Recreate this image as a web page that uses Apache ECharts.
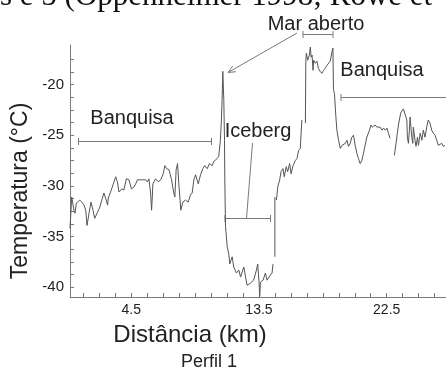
<!DOCTYPE html>
<html>
<head>
<meta charset="utf-8">
<script src="https://cdn.jsdelivr.net/npm/echarts@6/dist/echarts.min.js"></script>
<style>
  html, body { margin: 0; padding: 0; background: #fff; }
  #chart { width: 446px; height: 371px; }
</style>
</head>
<body>
<div id="chart"></div>
<script>
// distance along profile (km) and surface temperature (°C); null = gap in the record
const dist = [
  0.18, 0.30, 0.39, 0.46, 0.53, 0.63, 0.77, 0.87, 1.01, 1.17, 1.29, 1.38, 1.52, 1.66, 1.80, 1.92,
  2.12, 2.28, 2.42, 2.57, 2.69, 2.83, 2.88, 3.04, 3.21, 3.40, 3.52, 3.63, 3.82, 3.98, 4.15, 4.34,
  4.51, 4.69, 4.81, 4.93, 5.04, 5.27, 5.51, 5.63, 5.74, 5.86, 5.93, 5.98, 6.02, 6.21, 6.40, 6.57,
  6.73, 6.87, 6.99, 7.15, 7.34, 7.48, 7.57, 7.66, 7.76, 7.85, 7.99, 8.13, 8.32, 8.51, 8.67, 8.79,
  8.91, 9.03, 9.22, 9.38, 9.54, 9.68, 9.85, 10.01, 10.20, 10.31, 10.55, 10.66, 10.78, 10.85, 10.90, 10.95,
  11.02, 11.07, 11.09, 11.14, 11.26, 11.37, 11.44, 11.61, 11.72, 11.91, 12.08, 12.20, 12.43, 12.66, 12.89, 13.12,
  13.32, 13.41, 13.51, 13.55, 13.60, 13.79, 13.95, 14.07, 14.30, 14.42, 14.49, 14.55, 14.62, 14.62, 14.68, 14.73,
  14.82, 14.96, 15.05, 15.19, 15.28, 15.42, 15.52, 15.66, 15.76, 15.90, 16.06, 16.18, 16.29, 16.41, 16.52, 16.60,
  16.77, 16.80, 16.84, 16.93, 17.05, 17.12, 17.17, 17.24, 17.31, 17.35, 17.47, 17.58, 17.69, 17.81, 17.93, 18.05,
  18.17, 18.29, 18.40, 18.52, 18.64, 18.71, 18.75, 18.82, 18.92, 18.99, 19.11, 19.23, 19.35, 19.46, 19.58, 19.70,
  19.81, 19.93, 20.04, 20.16, 20.28, 20.40, 20.51, 20.63, 20.75, 20.86, 20.98, 21.10, 21.29, 21.39, 21.48, 21.57,
  21.69, 21.81, 21.92, 22.04, 22.16, 22.28, 22.40, 22.52, 22.62, 22.74, 22.85, 23.04, 23.16, 23.25, 23.35, 23.49,
  23.68, 23.80, 23.92, 23.96, 24.03, 24.10, 24.15, 24.27, 24.34, 24.38, 24.50, 24.57, 24.67, 24.74, 24.86, 24.98,
  25.08, 25.20, 25.32, 25.43, 25.55, 25.67, 25.79, 25.91, 26.03, 26.14, 26.26, 26.38, 26.49, 26.61
];
const temp = [
  -34.2, -31.1, -31.2, -32.4, -32.7, -31.7, -31.6, -31.4, -31.6, -31.9, -32.4, -33.9, -32.7, -31.6, -32.4, -33.2,
  -32.6, -32.1, -31.4, -30.7, -31.2, -31.9, -31.2, -30.6, -29.9, -29.1, -29.6, -30.6, -30.3, -30.4, -29.3, -29.4,
  -30.3, -30.1, -29.8, -29.4, -29.3, -29.4, -29.4, -29.6, -29.3, -30.7, -32.4, -31.1, -29.8, -29.3, -29.6, -29.4,
  -28.9, -28.0, -28.3, -28.4, -29.4, -30.6, -31.1, -28.4, -27.8, -29.8, -32.4, -31.6, -31.4, -31.6, -30.9, -30.7,
  -29.4, -28.9, -29.8, -28.9, -28.3, -28.0, -28.3, -27.8, -28.0, -27.6, -27.3, -27.1, -25.5, -23.5, -21.5, -18.7,
  -21.5, -25.5, -29.4, -34.0, -36.0, -36.7, -37.7, -37.0, -38.0, -38.6, -38.3, -39.0, -38.0, -39.8, -39.6, -39.3,
  -38.3, -37.7, -39.6, -40.9, -39.5, -39.3, -38.6, -39.3, -38.8, -38.6, -37.7, null, -37.0, -31.1, null, -31.4,
  -30.1, -29.4, -28.6, -28.3, -29.1, -28.1, -28.6, -27.8, -28.8, -28.0, -27.5, -27.3, -26.5, -26.3, -23.5, null,
  -23.8, -17.7, -16.9, -17.6, -17.1, -16.3, -17.3, -17.1, -18.6, -17.6, -17.9, -17.7, -18.4, -18.7, -18.9, -18.6,
  -18.4, -18.1, -18.2, -17.7, -16.8, -16.4, -20.5, -20.9, -23.2, -24.5, -25.5, -26.3, -26.0, -26.1, -25.8, -25.5,
  -26.1, -25.8, -25.2, -25.0, -26.0, -26.8, -27.3, -27.8, -27.5, -26.8, -26.0, -25.2, -24.5, -24.0, -24.2, -24.2,
  -24.0, -24.2, -24.3, -24.2, -24.5, -24.3, -24.5, -24.3, -24.8, -25.3, null, -27.0, -25.8, -24.8, -23.8, -22.8,
  -22.4, -22.5, -23.5, -25.2, -25.8, -24.5, -23.2, -25.2, -25.8, -24.2, -25.5, -26.1, -25.2, -26.0, -24.8, -25.5,
  -24.5, -25.2, -24.2, -23.5, -23.8, -24.5, -24.8, -25.0, -25.5, -26.0, -26.1, -25.8, -26.1, -26.0
];

// axis ticks and labels
const xLabels = [4.5, 13.5, 22.5];
const xTicks = [];
for (let i = 1; i <= 23; i++) xTicks.push(i * 1.125);
const yLabels = [-40, -35, -30, -25, -20];
const yTicks = [];
for (let i = 0; i <= 18; i++) yTicks.push(-40 + i * 1.25);

const font = '"Liberation Sans", Arial, sans-serif';
const ink = '#222';
const gray = '#7a7a7a';

function bracket(x1, x2, y, leftEnd, rightEnd) {
  const els = [{ type: 'line', shape: { x1: x1, y1: y, x2: x2, y2: y }, style: { stroke: gray, lineWidth: 1 } }];
  if (leftEnd) els.push({ type: 'line', shape: { x1: x1, y1: y - 3.5, x2: x1, y2: y + 3.5 }, style: { stroke: gray, lineWidth: 1 } });
  if (rightEnd) els.push({ type: 'line', shape: { x1: x2, y1: y - 3.5, x2: x2, y2: y + 3.5 }, style: { stroke: gray, lineWidth: 1 } });
  return els;
}

function arrow(x1, y1, x2, y2) {
  const a = Math.atan2(y1 - y2, x1 - x2);
  const len = 8, spread = 0.42;
  return [
    { type: 'line', shape: { x1: x1, y1: y1, x2: x2, y2: y2 }, style: { stroke: gray, lineWidth: 1 } },
    { type: 'polyline', shape: { points: [
      [x2 + len * Math.cos(a + spread), y2 + len * Math.sin(a + spread)],
      [x2, y2],
      [x2 + len * Math.cos(a - spread), y2 + len * Math.sin(a - spread)]
    ] }, style: { stroke: gray, lineWidth: 1, fill: null } }
  ];
}

function label(text, x, y, size, extra) {
  return Object.assign({
    type: 'text', x: x, y: y,
    style: { text: text, font: size + 'px ' + font, fill: ink, align: 'center', verticalAlign: 'middle' }
  }, extra || {});
}

const chart = echarts.init(document.getElementById('chart'));

chart.setOption({
  animation: false,
  backgroundColor: '#fff',
  grid: { left: 70, right: 0, top: 45, bottom: 74 },
  xAxis: {
    type: 'value',
    min: 0.18,
    max: 26.68,
    axisLine: { lineStyle: { color: gray } },
    axisTick: { inside: true, length: 4, customValues: xTicks, lineStyle: { color: gray } },
    axisLabel: {
      customValues: xLabels,
      formatter: (v) => v.toFixed(1),
      color: ink, fontSize: 14, fontFamily: font, margin: 6
    },
    splitLine: { show: false }
  },
  yAxis: {
    type: 'value',
    min: -40.96,
    max: -16.1,
    axisLine: { show: true, lineStyle: { color: gray } },
    axisTick: { show: true, inside: true, length: 4, customValues: yTicks, lineStyle: { color: gray } },
    axisLabel: {
      customValues: yLabels,
      color: ink, fontSize: 15, fontFamily: font, margin: 6
    },
    splitLine: { show: false }
  },
  series: [{
    type: 'line',
    data: dist.map((d, i) => [d, temp[i]]),
    showSymbol: false,
    connectNulls: false,
    lineStyle: { color: '#555', width: 1 },
    z: 3
  }],
  graphic: [].concat(
    [
      // cut-off line of the page text above the figure
      { type: 'text', x: 0, y: -3.5, style: { text: 's e 5 (Oppenheimer 1998; Rowe et', font: '31px "Liberation Serif", "Times New Roman", serif', fill: '#111', align: 'left', verticalAlign: 'middle' } },
      label('Mar aberto', 316, 24, 20),
      label('Banquisa', 382, 70, 20),
      label('Banquisa', 132, 118, 20),
      label('Iceberg', 258, 131, 20),
      label('Temperatura (°C)', 21, 191, 23, { rotation: Math.PI / 2 }),
      label('Distância (km)', 190, 335, 24),
      label('Perfil 1', 209, 362, 18)
    ],
    bracket(303, 333, 34.5, true, true),
    arrow(297, 33, 228, 72.5),
    bracket(341, 446, 97.5, true, false),
    bracket(78.5, 211.5, 141.5, true, true),
    bracket(225, 270.5, 218.5, true, true),
    [{ type: 'line', shape: { x1: 252.5, y1: 143, x2: 246.5, y2: 218.5 }, style: { stroke: gray, lineWidth: 1 } }]
  )
});
</script>
</body>
</html>
